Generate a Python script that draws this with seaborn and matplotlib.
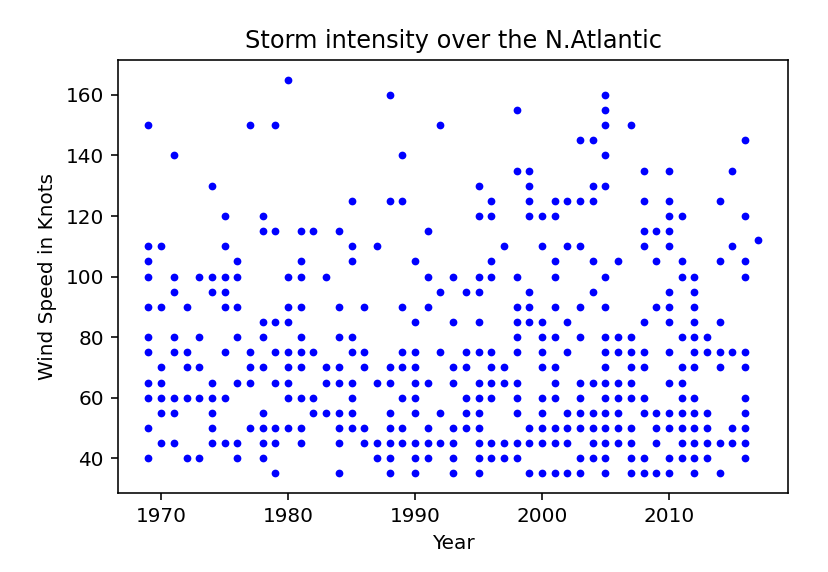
import pandas as pd
import matplotlib.pyplot as plt
import seaborn as sns

# Season years and the max wind speed (knots) of each storm in that year
years = list(range(1969, 2018))
speeds = [
    [150, 110, 105, 100, 90, 80, 75, 65, 60, 50, 40],   # 1969
    [110, 90, 70, 65, 60, 55, 45],
    [140, 100, 95, 80, 75, 60, 55, 45],
    [90, 75, 70, 60, 40],
    [100, 80, 70, 60, 40],
    [130, 100, 95, 65, 60, 55, 50, 45],
    [120, 110, 100, 95, 90, 75, 60, 45],
    [105, 100, 90, 80, 65, 45, 40],
    [150, 75, 70, 65, 50],
    [120, 115, 85, 80, 70, 55, 50, 45, 40],
    [150, 115, 85, 75, 65, 50, 45, 35],
    [165, 100, 90, 85, 75, 70, 65, 60, 50],              # 1980
    [115, 105, 100, 90, 80, 75, 70, 60, 50, 45],
    [115, 75, 60, 55],
    [100, 70, 65, 55],
    [115, 90, 80, 70, 65, 55, 50, 45, 35],
    [125, 110, 105, 80, 75, 65, 60, 55, 50],
    [90, 75, 70, 50, 45],
    [110, 65, 45, 40],
    [160, 125, 70, 65, 55, 50, 45, 40, 35],
    [140, 125, 90, 75, 70, 60, 50, 45],
    [105, 85, 75, 70, 65, 60, 55, 45, 40, 35],           # 1990
    [115, 100, 90, 65, 50, 45, 40],
    [150, 95, 75, 55, 45],
    [100, 85, 70, 65, 50, 45, 40, 35],
    [95, 75, 70, 60, 55, 50],
    [130, 120, 100, 95, 85, 75, 65, 60, 55, 50, 45, 40, 35],
    [125, 120, 105, 100, 75, 70, 65, 60, 45, 40],
    [110, 70, 65, 45, 40],
    [155, 135, 100, 90, 85, 80, 75, 65, 60, 55, 45, 40],
    [135, 130, 125, 120, 95, 90, 85, 50, 45, 35],
    [120, 110, 85, 80, 75, 70, 60, 55, 50, 45, 35],      # 2000
    [125, 120, 105, 100, 90, 80, 70, 65, 60, 50, 45, 35],
    [125, 110, 85, 75, 55, 50, 45, 35],
    [145, 125, 110, 90, 80, 65, 60, 55, 50, 40, 35],
    [145, 130, 125, 105, 95, 65, 55, 50, 45, 40],
    [160, 155, 150, 140, 130, 100, 90, 80, 75, 70, 65, 60, 55, 50, 45, 40, 35],
    [105, 80, 75, 65, 60, 55, 50, 45],
    [150, 80, 75, 70, 65, 60, 50, 45, 40, 35],
    [135, 125, 115, 110, 85, 75, 70, 60, 55, 40, 35],
    [115, 105, 90, 55, 50, 45, 35],
    [135, 125, 120, 115, 110, 95, 90, 85, 75, 65, 55, 50, 40, 35],  # 2010
    [120, 105, 100, 80, 70, 65, 60, 55, 50, 45, 40],
    [100, 95, 90, 85, 80, 75, 70, 60, 55, 50, 45, 40, 35],
    [80, 75, 55, 50, 45, 40],
    [125, 105, 85, 75, 70, 45, 35],
    [135, 110, 75, 50, 45],
    [145, 120, 105, 100, 75, 70, 60, 55, 50, 45, 40],
    [112],
]

storms = pd.DataFrame({'Year': years, 'Wind': speeds}).explode('Wind')
storms['Wind'] = storms['Wind'].astype(float)

sns.set_style('ticks')
plt.rcParams['font.family'] = ['DejaVu Sans']
plt.rcParams['text.color'] = 'black'
plt.rcParams['axes.labelcolor'] = 'black'
plt.rcParams['xtick.color'] = 'black'
plt.rcParams['ytick.color'] = 'black'
plt.rcParams['axes.edgecolor'] = 'black'

fig = plt.figure(figsize=(828 / 144, 572 / 144), dpi=144)
ax = fig.add_axes([0.1425, 0.138, 0.8095, 0.757])
sns.scatterplot(data=storms, x='Year', y='Wind', color='blue', s=15, linewidth=0, ax=ax)
ax.set_title('Storm intensity over the N.Atlantic', fontsize=12)
ax.set_xlabel('Year', fontsize=10)
ax.set_ylabel('Wind Speed in Knots', fontsize=10)
ax.set_xticks([1970, 1980, 1990, 2000, 2010])
ax.set_yticks([40, 60, 80, 100, 120, 140, 160])
ax.tick_params(labelsize=10, width=0.8, length=3.5)
for spine in ax.spines.values():
    spine.set_linewidth(0.8)

plt.savefig('out.png')
